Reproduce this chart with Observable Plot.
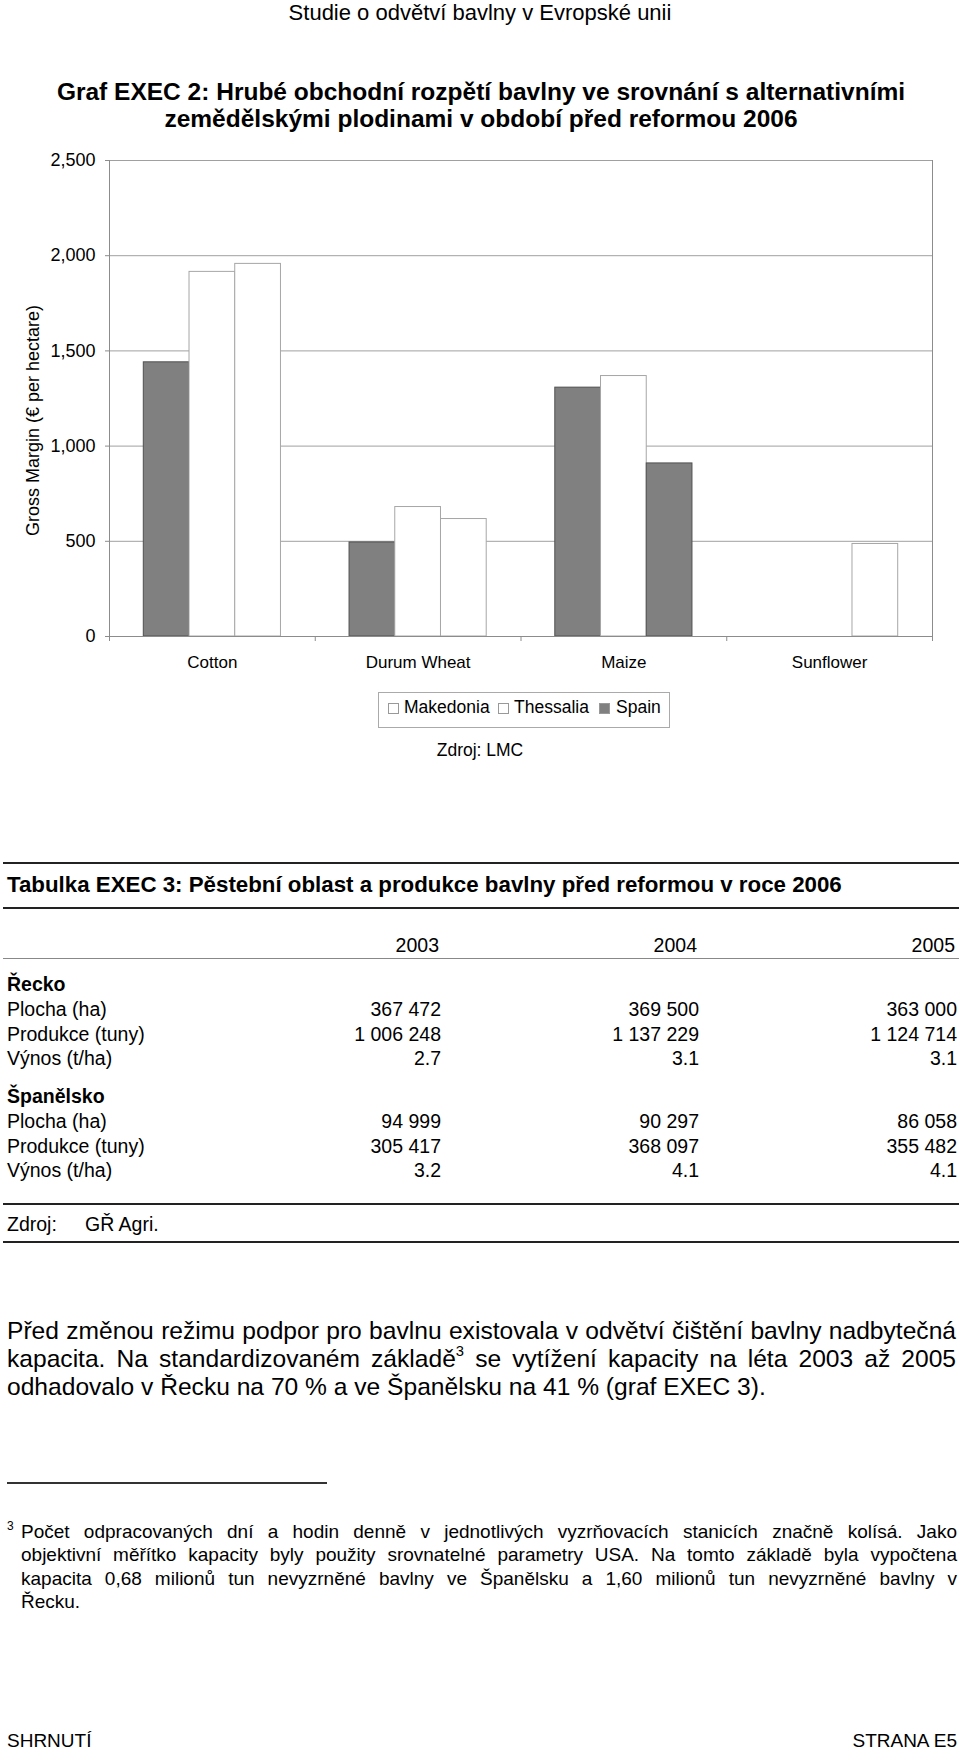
<!DOCTYPE html>
<html>
<head>
<meta charset="utf-8">
<script src="https://cdn.jsdelivr.net/npm/d3@7"></script>
<script src="https://cdn.jsdelivr.net/npm/@observablehq/plot@0.6"></script>
<style>
  html, body { margin: 0; padding: 0; background: #fff; }
  body { width: 960px; height: 1749px; position: relative; overflow: hidden;
         font-family: "Liberation Sans", Arial, sans-serif; color: #000; }
  .t { position: absolute; white-space: nowrap; line-height: 1; }
  .rule { position: absolute; background: #222; }
  #chart { position: absolute; left: 0; top: 140px; }
  #legend { position: absolute; left: 378px; top: 692px; width: 290px; height: 34px;
            border: 1px solid #aaa; box-sizing: content-box; }
  .sw { position: absolute; width: 9px; height: 9px; border: 1px solid #999; }
  sup { font-size: 0.6em; line-height: 0; vertical-align: 0; position: relative; top: -0.75em; }
</style>
</head>
<body>
<div id="chart"></div>
<div id="legend"></div>
<script>
// ---------- chart data ----------
const crops = ["Cotton", "Durum Wheat", "Maize", "Sunflower"];
const seriesNames = ["Spain", "Makedonia", "Thessalia"];
const spain     = [1440, 494, 1307, null];
const makedonia = [1915, 680, 1368, null];
const thessalia = [1957, 617, 909, 486];
const yTicks = [0, 500, 1000, 1500, 2000, 2500];
const legendNames = ["Makedonia", "Thessalia", "Spain"];
// bars drawn in the dark shade besides the Spain series (as in the source picture)
const darkExtra = ["Maize/Thessalia"];

// ---------- table data ----------
const years = ["2003", "2004", "2005"];
const rowLabels = ["Plocha (ha)", "Produkce (tuny)", "Výnos (t/ha)"];
const greece = [["367 472", "369 500", "363 000"], ["1 006 248", "1 137 229", "1 124 714"], ["2.7", "3.1", "3.1"]];
const spainT = [["94 999", "90 297", "86 058"], ["305 417", "368 097", "355 482"], ["3.2", "4.1", "4.1"]];

const seriesValues = [spain, makedonia, thessalia];
const bars = crops.flatMap((crop, i) => seriesNames.map((s, j) => ({
  crop, series: s, ci: i, slot: j, value: seriesValues[j][i]
}))).filter(d => d.value != null);

const DARK = "#808080";
const isDark = d => d.series === "Spain" || darkExtra.includes(d.crop + "/" + d.series);
const GAP = 1 / 6, BW = 2 / 9;
const fmt = d3.format(",.0f");

const chart = Plot.plot({
  width: 960, height: 540,
  marginTop: 20, marginBottom: 44, marginLeft: 109, marginRight: 28,
  x: {domain: [0, crops.length]},
  y: {domain: [0, 2500]},
  style: {fontFamily: "'Liberation Sans', Arial, sans-serif", fontSize: "18px", background: "transparent", color: "#000"},
  marks: [
    Plot.gridY({ticks: yTicks.filter(v => v > 0), stroke: "#a0a0a0", strokeOpacity: 1}),
    Plot.rectY(bars, {
      x1: d => d.ci + GAP + d.slot * BW,
      x2: d => d.ci + GAP + (d.slot + 1) * BW,
      y: "value",
      fill: d => isDark(d) ? DARK : "#ffffff",
      stroke: d => isDark(d) ? "#505050" : "#a6a6a6",
      strokeWidth: 1
    }),
    Plot.ruleX([0, crops.length], {y1: 0, y2: 2500, stroke: "#8c8c8c"}),
    Plot.ruleY([0], {stroke: "#8c8c8c"}),
    Plot.axisY({ticks: yTicks, tickSize: 4, tickPadding: 10, tickFormat: d => fmt(d), label: null, stroke: "#8c8c8c", fontSize: 18}),
    Plot.axisX({ticks: d3.range(crops.length + 1), tickSize: 5, tickFormat: () => "", label: null, stroke: "#8c8c8c"}),
    Plot.axisX({ticks: crops.map((c, i) => i + 0.5), tickSize: 0, tickPadding: 19, tickFormat: d => crops[Math.floor(d)], label: null, fontSize: 17}),
    Plot.text(["Gross Margin (€ per hectare)"], {text: d => d, frameAnchor: "left", textAnchor: "middle", rotate: -90, dx: -76, dy: 22, fontSize: 18, fill: "#000"})
  ]
});
document.getElementById("chart").appendChild(chart);

// ---------- legend ----------
const legend = document.getElementById("legend");
const legendPos = [{sw: 9, tx: 25}, {sw: 119, tx: 135}, {sw: 220, tx: 237}];
legendNames.forEach((name, k) => {
  const sw = document.createElement("div");
  sw.className = "sw";
  sw.style.left = legendPos[k].sw + "px";
  sw.style.top = "10px";
  sw.style.background = name === "Spain" ? DARK : "#fff";
  legend.appendChild(sw);
  const t = document.createElement("div");
  t.className = "t";
  t.style.fontSize = "17.5px";
  t.style.left = legendPos[k].tx + "px";
  t.style.top = (21 - 0.8465 * 17.5) + "px";
  t.textContent = name;
  legend.appendChild(t);
});

// ---------- page text helpers ----------
function text(str, opt) {
  const el = document.createElement("div");
  el.className = "t";
  const size = opt.size;
  el.style.fontSize = size + "px";
  if (opt.bold) el.style.fontWeight = "bold";
  el.style.top = (opt.base - 0.8465 * size) + "px";
  if (opt.align === "center") { el.style.left = (opt.x - 500) + "px"; el.style.width = "1000px"; el.style.textAlign = "center"; }
  else if (opt.align === "right") { el.style.left = (opt.x - 600) + "px"; el.style.width = "600px"; el.style.textAlign = "right"; }
  else if (opt.align === "justify") {
    el.style.left = opt.x + "px"; el.style.width = opt.w + "px";
    el.style.whiteSpace = "normal"; el.style.textAlign = "justify"; el.style.textAlignLast = "justify";
  }
  else el.style.left = opt.x + "px";
  if (opt.html) el.innerHTML = str; else el.textContent = str;
  document.body.appendChild(el);
  return el;
}
function rule(x, y, w, h, color) {
  const el = document.createElement("div");
  el.className = "rule";
  Object.assign(el.style, {left: x + "px", top: y + "px", width: w + "px", height: h + "px", background: color || "#222"});
  document.body.appendChild(el);
}

// header
text("Studie o odvětví bavlny v Evropské unii", {x: 480, base: 21, size: 22, align: "center"});
// chart title
text("Graf EXEC 2: Hrubé obchodní rozpětí bavlny ve srovnání s alternativními", {x: 481, base: 101, size: 24.5, bold: true, align: "center"});
text("zemědělskými plodinami v období před reformou 2006", {x: 481, base: 128, size: 24.5, bold: true, align: "center"});
// chart source
text("Zdroj: LMC", {x: 480, base: 757, size: 17.5, align: "center"});

// ---------- table ----------
rule(3, 862, 956, 2);
text("Tabulka EXEC 3: Pěstební oblast a produkce bavlny před reformou v roce 2006", {x: 7, base: 893, size: 22.3, bold: true});
rule(3, 907, 956, 2);
const colRight = [441, 699, 957];
years.forEach((y, k) => text(y, {x: colRight[k] - 2, base: 953, size: 19.5, align: "right"}));
rule(3, 958, 956, 1, "#888");
const groups = [{name: "Řecko", rows: greece, base: 992}, {name: "Španělsko", rows: spainT, base: 1104}];
groups.forEach(g => {
  text(g.name, {x: 7, base: g.base, size: 19.5, bold: true});
  rowLabels.forEach((lab, r) => {
    const b = g.base + 24.6 * (r + 1);
    text(lab, {x: 7, base: b, size: 19.5});
    g.rows[r].forEach((v, k) => text(v, {x: colRight[k], base: b, size: 19.5, align: "right"}));
  });
});
rule(3, 1203, 956, 2);
text("Zdroj:", {x: 7, base: 1232, size: 19.5});
text("GŘ Agri.", {x: 85, base: 1232, size: 19.5});
rule(3, 1241, 956, 2);

// ---------- paragraph ----------
text("Před změnou režimu podpor pro bavlnu existovala v odvětví čištění bavlny nadbytečná", {x: 7, w: 949, base: 1340, size: 24.6, align: "justify"});
text("kapacita. Na standardizovaném základě<sup>3</sup> se vytížení kapacity na léta 2003 až 2005", {x: 7, w: 949, base: 1368, size: 24.6, align: "justify", html: true});
text("odhadovalo v Řecku na 70 % a ve Španělsku na 41 % (graf EXEC 3).", {x: 7, base: 1396, size: 24.6});

// ---------- footnote ----------
rule(7, 1482, 320, 2, "#333");
text("3", {x: 7, base: 1530, size: 12});
const fn = [
  "Počet odpracovaných dní a hodin denně v jednotlivých vyzrňovacích stanicích značně kolísá. Jako",
  "objektivní měřítko kapacity byly použity srovnatelné parametry USA. Na tomto základě byla vypočtena",
  "kapacita 0,68 milionů tun nevyzrněné bavlny ve Španělsku a 1,60 milionů tun nevyzrněné bavlny v",
  "Řecku."
];
fn.forEach((line, k) => {
  const b = 1538 + 23.4 * k;
  if (k < fn.length - 1) text(line, {x: 21, w: 936, base: b, size: 19, align: "justify"});
  else text(line, {x: 21, base: b, size: 19});
});

// ---------- footer ----------
text("SHRNUTÍ", {x: 7, base: 1747, size: 19});
text("STRANA E5", {x: 957, base: 1747, size: 19, align: "right"});
</script>
</body>
</html>
